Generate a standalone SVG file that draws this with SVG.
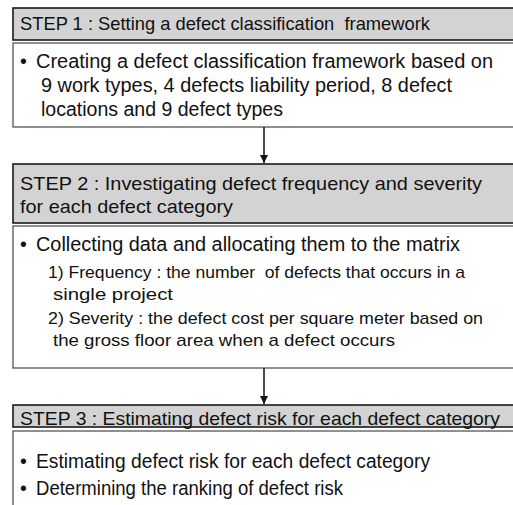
<svg xmlns="http://www.w3.org/2000/svg" width="513" height="505" viewBox="0 0 513 505">
<style>
.hd{fill:#d3d3d3;stroke:#1a1a1a;stroke-width:1.6}
.bd{fill:#ffffff;stroke:#555555;stroke-width:1.3}
text{font-family:"Liberation Sans",Arial,sans-serif;fill:#111111;white-space:pre}
.h{font-size:18.5px}
.b{font-size:19.5px}
.s{font-size:17px}
.c{stroke:#111111;stroke-width:1.5;fill:none}
</style>
<defs>
<marker id="ah" viewBox="0 0 10 10" refX="10" refY="5" markerWidth="8" markerHeight="8" markerUnits="userSpaceOnUse" orient="auto">
<path d="M0,0 L10,5 L0,10 z" fill="#111111"/>
</marker>
</defs>
<rect width="513" height="505" fill="#ffffff"/>
<g id="step1-header">
<rect class="hd" x="13" y="8" width="510" height="32"/>
<text class="h" x="20" y="30" textLength="410" lengthAdjust="spacingAndGlyphs" xml:space="preserve">STEP 1 : Setting a defect classification  framework</text>
</g>
<g id="step1-body">
<rect class="bd" x="13" y="43" width="510" height="84"/>
<text class="b" x="20" y="68">•</text>
<text class="b" x="36" y="68" textLength="457" lengthAdjust="spacingAndGlyphs">Creating a defect classification framework based on</text>
<text class="b" x="41" y="92" textLength="411" lengthAdjust="spacingAndGlyphs">9 work types, 4 defects liability period, 8 defect</text>
<text class="b" x="41" y="116" textLength="242" lengthAdjust="spacingAndGlyphs">locations and 9 defect types</text>
</g>
<g id="step2-header">
<rect class="hd" x="13" y="164" width="510" height="59"/>
<text class="h" x="20" y="190" textLength="462" lengthAdjust="spacingAndGlyphs">STEP 2 : Investigating defect frequency and severity</text>
<text class="h" x="20" y="213" textLength="213" lengthAdjust="spacingAndGlyphs">for each defect category</text>
</g>
<g id="step2-body">
<rect class="bd" x="13" y="226" width="510" height="142"/>
<text class="b" x="20" y="251">•</text>
<text class="b" x="36" y="251" textLength="424" lengthAdjust="spacingAndGlyphs">Collecting data and allocating them to the matrix</text>
<text class="s" x="48" y="278" textLength="417" lengthAdjust="spacingAndGlyphs" xml:space="preserve">1) Frequency : the number  of defects that occurs in a</text>
<text class="s" x="53" y="300" textLength="120" lengthAdjust="spacingAndGlyphs">single project</text>
<text class="s" x="48" y="324" textLength="435" lengthAdjust="spacingAndGlyphs">2) Severity : the defect cost per square meter based on</text>
<text class="s" x="53" y="346" textLength="342" lengthAdjust="spacingAndGlyphs">the gross floor area when a defect occurs</text>
</g>
<g id="step3-header">
<rect class="hd" x="13" y="405" width="510" height="22"/>
<text class="h" x="20" y="424.5" textLength="480" lengthAdjust="spacingAndGlyphs">STEP 3 : Estimating defect risk for each defect category</text>
</g>
<g id="step3-body">
<rect class="bd" x="13" y="431" width="510" height="90"/>
<text class="b" x="20" y="468">•</text>
<text class="b" x="36" y="468" textLength="394" lengthAdjust="spacingAndGlyphs">Estimating defect risk for each defect category</text>
<text class="b" x="20" y="495">•</text>
<text class="b" x="36" y="495" textLength="307" lengthAdjust="spacingAndGlyphs">Determining the ranking of defect risk</text>
</g>
<g id="connectors">
<line class="c" x1="264" y1="127" x2="264" y2="163" marker-end="url(#ah)"/>
<line class="c" x1="264" y1="368" x2="264" y2="404" marker-end="url(#ah)"/>
</g>
</svg>
